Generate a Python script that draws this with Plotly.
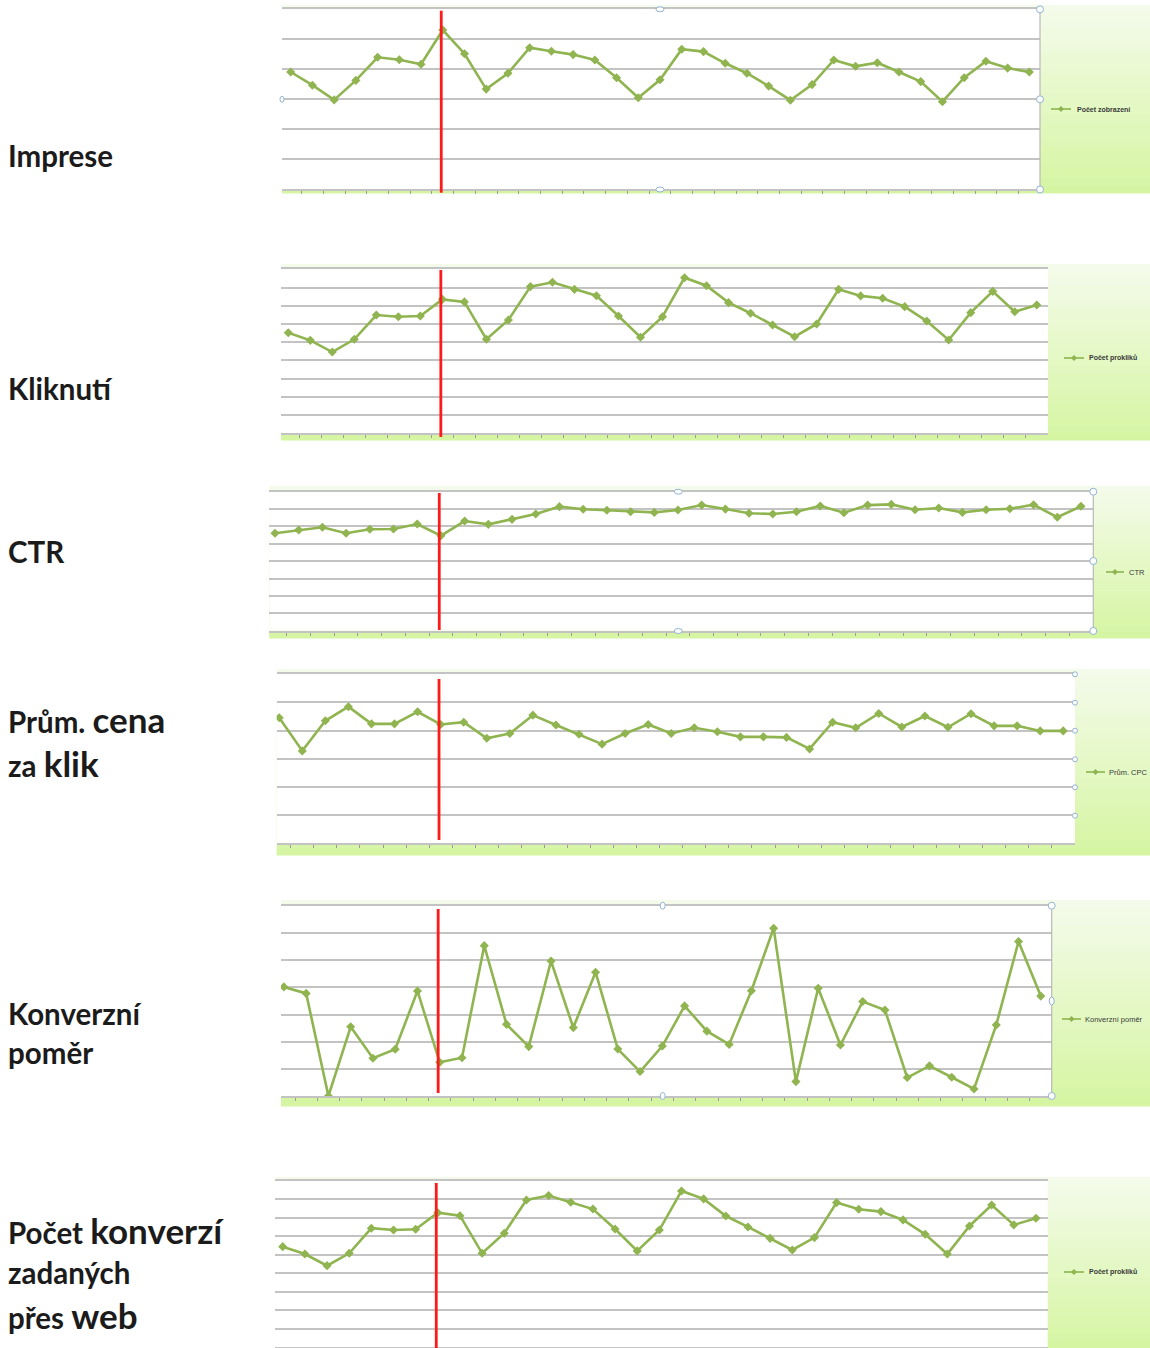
import plotly.graph_objects as go

W, H = 1150, 1348

# ---------------- data (grid units; 35 periods) ----------------
periods = list(range(35))
imprese = [3.91, 3.47, 2.98, 3.63, 4.40, 4.32, 4.17, 5.31, 4.52, 3.34, 3.87, 4.72, 4.60, 4.49,
           4.31, 3.72, 3.05, 3.65, 4.67, 4.59, 4.20, 3.87, 3.44, 2.97, 3.49, 4.31, 4.10, 4.22,
           3.91, 3.59, 2.92, 3.72, 4.27, 4.04, 3.91]
kliknuti = [5.52, 5.10, 4.46, 5.16, 6.49, 6.40, 6.44, 7.35, 7.21, 5.16, 6.22, 8.05, 8.29, 7.90,
            7.55, 6.44, 5.27, 6.40, 8.54, 8.10, 7.17, 6.59, 5.94, 5.30, 6.00, 7.90, 7.54, 7.41,
            6.95, 6.16, 5.12, 6.62, 7.79, 6.67, 7.04]
ctr = [5.61, 5.80, 5.95, 5.61, 5.84, 5.85, 6.14, 5.47, 6.31, 6.12, 6.41, 6.72, 7.14, 6.99,
       6.93, 6.85, 6.81, 6.95, 7.23, 7.00, 6.76, 6.72, 6.85, 7.18, 6.79, 7.23, 7.27, 6.96,
       7.06, 6.81, 6.96, 7.02, 7.25, 6.53, 7.16]
prum_cpc = [4.46, 3.28, 4.35, 4.85, 4.24, 4.24, 4.67, 4.22, 4.30, 3.73, 3.90, 4.55, 4.20, 3.87,
            3.52, 3.90, 4.22, 3.90, 4.10, 3.96, 3.78, 3.78, 3.76, 3.35, 4.30, 4.10, 4.61, 4.13,
            4.52, 4.12, 4.60, 4.17, 4.17, 3.99, 3.99]
konverzni_pomer = [4.02, 3.78, 0.00, 2.55, 1.39, 1.72, 3.87, 1.24, 1.41, 5.54, 2.64, 1.82, 4.97,
                   2.52, 4.56, 1.73, 0.90, 1.84, 3.32, 2.39, 1.90, 3.88, 6.18, 0.53, 3.97, 1.88,
                   3.48, 3.17, 0.68, 1.11, 0.69, 0.26, 2.62, 5.69, 3.68]
konverze_web = [5.44, 5.04, 4.41, 5.08, 6.44, 6.34, 6.38, 7.28, 7.12, 5.08, 6.17, 7.97, 8.21,
                7.85, 7.48, 6.40, 5.21, 6.34, 8.46, 8.03, 7.10, 6.51, 5.89, 5.26, 5.93, 7.83,
                7.47, 7.34, 6.89, 6.11, 5.04, 6.56, 7.70, 6.62, 6.98]

series_names = ["Počet zobrazení", "Počet prokliků", "CTR", "Prům. CPC",
                "Konverzní poměr", "Počet prokliků"]
grid_max = [6, 9, 8, 6, 7, 9]
marker_period = 7  # red vertical marker (change point)

# ---------------- layout geometry (pixels) ----------------
geom = [
    dict(plot=(282, 1040, 9.3, 189.3), band=(5, 193), xr=(-0.40, 34.49), red=(10.7, 192.7),
         leg=(1051, 1071, 109, 1076), bold=True, border=True),
    dict(plot=(281, 1048, 269.3, 433.3), band=(264, 440), xr=(-0.33, 34.51), red=(270, 437),
         leg=(1064, 1084, 358, 1088), bold=True, border=False),
    dict(plot=(269.3, 1093.3, 491.7, 630.7), band=(486, 638), xr=(-0.24, 34.52), red=(493, 630),
         leg=(1106, 1124, 572, 1128), bold=False, border=True),
    dict(plot=(276.7, 1075, 674.3, 843.3), band=(669, 855), xr=(-0.11, 34.51), red=(679, 840),
         leg=(1086, 1105, 772, 1108), bold=False, border=False),
    dict(plot=(281, 1051.7, 906, 1096), band=(900, 1106), xr=(-0.13, 34.49), red=(909, 1093),
         leg=(1062, 1081, 1019, 1084), bold=False, border=True),
    dict(plot=(275, 1047.7, 1181, 1347), band=(1177, 1349), xr=(-0.35, 34.53), red=(1183, 1348),
         leg=(1064, 1084, 1272, 1088), bold=True, border=False),
]
all_series = [imprese, kliknuti, ctr, prum_cpc, konverzni_pomer, konverze_web]

GREEN = "#8fb450"
GRID = "#c3c3c3"


def fx(p):
    return p / W


def fy(p):
    return 1 - p / H


def lerp(c1, c2, t):
    return "rgb(%d,%d,%d)" % tuple(round(a + (b - a) * t) for a, b in zip(c1, c2))


fig = go.Figure()
shapes = []
annotations = []

top_col = (244, 251, 234)
bot_col = (214, 245, 163)

for i, (vals, g, gmax, nm) in enumerate(zip(all_series, geom, grid_max, series_names)):
    k = "" if i == 0 else str(i + 1)
    L, R, T, B = g["plot"]
    bt, bb = g["band"]
    n = 24
    for s in range(n):
        y0 = bt + (bb - bt) * s / n
        y1 = bt + (bb - bt) * (s + 1) / n + 0.5
        shapes.append(dict(type="rect", xref="paper", yref="paper", layer="below",
                           x0=fx(L), x1=1, y0=fy(y1), y1=fy(y0),
                           fillcolor=lerp(top_col, bot_col, s / (n - 1)), line_width=0))
    shapes.append(dict(type="rect", xref="paper", yref="paper", layer="below",
                       x0=fx(L), x1=fx(R), y0=fy(B), y1=fy(T),
                       fillcolor="white", line_width=0))
    if g["border"]:
        shapes.append(dict(type="line", xref="paper", yref="paper", layer="above",
                           x0=fx(R), x1=fx(R), y0=fy(B), y1=fy(T),
                           line=dict(color="#b9b9b9", width=1.2)))

    fig.add_trace(go.Scatter(
        x=periods, y=vals, mode="lines+markers", name=nm, showlegend=False,
        xaxis="x" + k, yaxis="y" + k,
        line=dict(color=GREEN, width=2.6),
        marker=dict(symbol="diamond", size=7, color=GREEN),
        hoverinfo="skip"))

    fig.update_layout(**{
        "xaxis" + k: dict(domain=[fx(L), fx(R)], range=list(g["xr"]), showgrid=False,
                          zeroline=False, showline=True, mirror=True, linecolor=GRID,
                          linewidth=1.6, ticks="outside", ticklen=3, tickwidth=1,
                          tickcolor="#9c9c9c", tickvals=[p + 0.5 for p in periods[:-1]],
                          showticklabels=False, fixedrange=True, anchor="y" + k),
        "yaxis" + k: dict(domain=[fy(B), fy(T)], range=[0, gmax],
                          tickvals=list(range(1, gmax)), showgrid=True, gridcolor=GRID,
                          gridwidth=1.6, zeroline=False, showline=False,
                          showticklabels=False, ticks="", fixedrange=True, anchor="x" + k),
    })

    rt, rb = g["red"]
    shapes.append(dict(type="line", xref="x" + k, yref="paper", layer="above",
                       x0=marker_period - 0.07, x1=marker_period - 0.07,
                       y0=fy(rb), y1=fy(rt), line=dict(color="#ff1a1a", width=2.8)))

    lx0, lx1, ly, tx = g["leg"]
    shapes.append(dict(type="line", xref="paper", yref="paper",
                       x0=fx(lx0), x1=fx(lx1), y0=fy(ly), y1=fy(ly),
                       line=dict(color=GREEN, width=1.6)))
    cx = (lx0 + lx1) / 2
    d = 3
    shapes.append(dict(type="path", xref="paper", yref="paper",
                       path="M %f,%f L %f,%f L %f,%f L %f,%f Z" % (
                           fx(cx - d), fy(ly), fx(cx), fy(ly - d), fx(cx + d), fy(ly),
                           fx(cx), fy(ly + d)),
                       fillcolor=GREEN, line_width=0))
    txt = "<b>%s</b>" % nm if g["bold"] else nm
    annotations.append(dict(xref="paper", yref="paper", x=fx(tx), y=fy(ly), text=txt,
                            xanchor="left", yanchor="middle", showarrow=False,
                            borderpad=0,
                            font=dict(family="Liberation Sans, Arial", size=7 if g["bold"] else 7.5,
                                      color="#3a3a3a")))

# selection handles (chart object frame)
handles = [(660, 9.3, 8, 5), (1040, 9.3, 7, 7), (1040, 99.3, 7, 7), (660, 189.5, 8, 5),
           (1040, 189.5, 7, 7), (282, 99.3, 4, 6),
           (678.3, 491.7, 8, 5), (1093.3, 491.7, 7, 7), (1093.3, 561, 7, 7),
           (678.3, 631, 8, 5), (1093.3, 631, 7, 7),
           (1075, 674.3, 5, 5), (1075, 702.7, 5, 5), (1075, 730.7, 5, 5), (1075, 759.3, 5, 5),
           (1075, 787.3, 5, 5), (1075, 815.7, 5, 5),
           (662.7, 905.7, 5, 7), (1051.7, 905.7, 7, 7), (1051.7, 1001, 5, 8),
           (662.7, 1096, 5, 7), (1051.7, 1096, 7, 7)]
for hx, hy, hw, hh in handles:
    shapes.append(dict(type="circle", xref="paper", yref="paper", layer="above",
                       x0=fx(hx - hw / 2), x1=fx(hx + hw / 2),
                       y0=fy(hy + hh / 2), y1=fy(hy - hh / 2),
                       fillcolor="white", line=dict(color="#93b3d3", width=1)))

BIG = "<span style='font-size:35px'>%s</span>"
labels = [
    ("Imprese", 155),
    ("Kliknutí", 388),
    ("CTR", 551),
    ("Prům. " + BIG % "cena", 719),
    ("za " + BIG % "klik", 763),
    ("Konverzní", 1013),
    ("poměr", 1052),
    ("Počet " + BIG % "konverzí", 1230),
    ("zadaných", 1272),
    ("přes " + BIG % "web", 1315),
]
for t, y in labels:
    annotations.append(dict(xref="paper", yref="paper", x=fx(6), y=fy(y), text="<b>%s</b>" % t,
                            xanchor="left", yanchor="middle", showarrow=False,
                            font=dict(family="Lato, Open Sans, sans-serif", size=29.5,
                                      color="#1b1b1b")))

fig.update_layout(
    width=W, height=H, autosize=False,
    margin=dict(l=0, r=0, t=0, b=0, pad=0, autoexpand=False),
    paper_bgcolor="white", plot_bgcolor="rgba(0,0,0,0)",
    showlegend=False, shapes=shapes, annotations=annotations,
)

fig.write_html("out.html", config={"displayModeBar": False},
               post_script="document.body.style.margin='0';document.body.style.overflow='hidden';")
